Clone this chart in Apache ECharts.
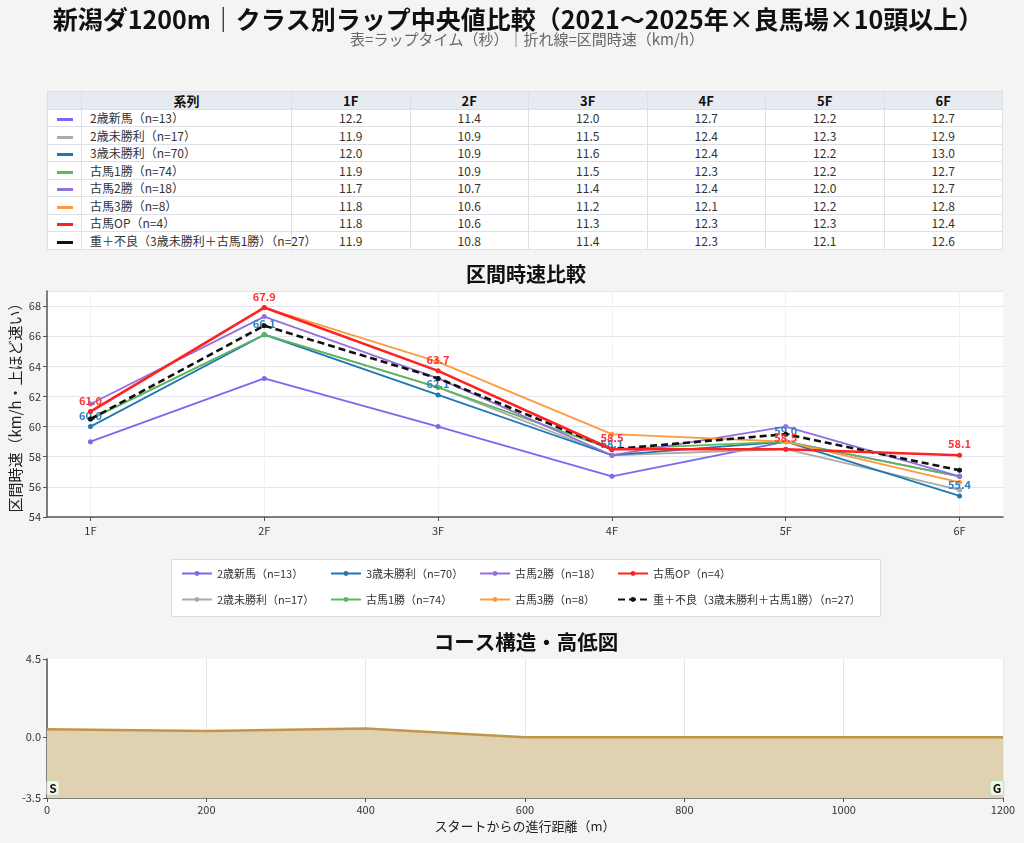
<!DOCTYPE html>
<html>
<head>
<meta charset="UTF-8">
<title>新潟ダ1200m クラス別ラップ中央値比較</title>
<script src="https://cdn.jsdelivr.net/npm/echarts@6/dist/echarts.min.js"></script>
<style>
  * {margin: 0; padding: 0;}
  body {background: #f4f4f4; font-family: "Noto Sans CJK JP", "Noto Sans", sans-serif;}
  #chart {position: absolute; left: 0; top: 0; width: 1024px; height: 843px;}
  #lapTable {position: absolute; left: 47px; top: 91px; width: 956px; border-collapse: collapse; table-layout: fixed;
    font-size: 12px; color: #333; background: #fff; z-index: 2;}
  #lapTable th, #lapTable td {border: 1px solid #dde0e6; height: 16.5px; line-height: 15px; padding: 0; text-align: center;}
  #lapTable th {background: #e6ebf2; font-weight: bold; font-size: 13px; color: #111;}
  #lapTable td.name {text-align: left; padding-left: 8px; white-space: nowrap;}
  .sw {display: inline-block; width: 16px; height: 3px; vertical-align: middle;}
</style>
</head>
<body>
<div id="chart"></div>
<table id="lapTable"></table>
<script type="text/javascript">
// 区間
var sections = ['1F', '2F', '3F', '4F', '5F', '6F'];

// 系列名・色
var seriesNames = ['2歳新馬（n=13）', '2歳未勝利（n=17）', '3歳未勝利（n=70）', '古馬1勝（n=74）',
                   '古馬2勝（n=18）', '古馬3勝（n=8）', '古馬OP（n=4）', '重＋不良（3歳未勝利＋古馬1勝）（n=27）'];
var seriesColors = ['#7b68ee', '#aaaaaa', '#1f77b4', '#5cb85c', '#9370db', '#ff9a3c', '#ff2222', '#111111'];

// ラップタイム（秒）
var lapShinba   = [12.2, 11.4, 12.0, 12.7, 12.2, 12.7];
var lapMisho2   = [11.9, 10.9, 11.5, 12.4, 12.3, 12.9];
var lapMisho3   = [12.0, 10.9, 11.6, 12.4, 12.2, 13.0];
var lapKoba1    = [11.9, 10.9, 11.5, 12.3, 12.2, 12.7];
var lapKoba2    = [11.7, 10.7, 11.4, 12.4, 12.0, 12.7];
var lapKoba3    = [11.8, 10.6, 11.2, 12.1, 12.2, 12.8];
var lapOP       = [11.8, 10.6, 11.3, 12.3, 12.3, 12.4];
var lapHeavy    = [11.9, 10.8, 11.4, 12.3, 12.1, 12.6];

// 区間時速（km/h）
var spdShinba   = [59.0, 63.2, 60.0, 56.7, 59.0, 56.7];
var spdMisho2   = [60.5, 66.1, 62.6, 58.1, 58.5, 55.8];
var spdMisho3   = [60.0, 66.1, 62.1, 58.1, 59.0, 55.4];
var spdKoba1    = [60.5, 66.1, 62.6, 58.5, 59.0, 56.7];
var spdKoba2    = [61.5, 67.3, 63.2, 58.1, 60.0, 56.7];
var spdKoba3    = [61.0, 67.9, 64.3, 59.5, 59.0, 56.3];
var spdOP       = [61.0, 67.9, 63.7, 58.5, 58.5, 58.1];
var spdHeavy    = [60.5, 66.7, 63.2, 58.5, 59.5, 57.1];

// 高低図
var courseDist   = [0, 200, 400, 600, 800, 1000, 1200];
var courseHeight = [0.45, 0.35, 0.5, 0.0, 0.0, 0.0, 0.0];
var heightTicks  = [-3.5, 0.0, 4.5];

var laps = [lapShinba, lapMisho2, lapMisho3, lapKoba1, lapKoba2, lapKoba3, lapOP, lapHeavy];
var speeds = [spdShinba, spdMisho2, spdMisho3, spdKoba1, spdKoba2, spdKoba3, spdOP, spdHeavy];

// 表
var html = '<colgroup><col style="width:34px"><col style="width:210px">';
for (var c = 0; c < sections.length; c++) html += '<col>';
html += '</colgroup><tr><th></th><th>系列</th>';
for (var c = 0; c < sections.length; c++) html += '<th>' + sections[c] + '</th>';
html += '</tr>';
for (var i = 0; i < seriesNames.length; i++) {
  html += '<tr><td><span class="sw" style="background:' + seriesColors[i] + '"></span></td><td class="name">' + seriesNames[i] + '</td>';
  for (var c = 0; c < sections.length; c++) html += '<td>' + laps[i][c].toFixed(1) + '</td>';
  html += '</tr>';
}
document.getElementById('lapTable').innerHTML = html;

var font = '"Noto Sans CJK JP", "Noto Sans", sans-serif';
var chart = echarts.init(document.getElementById('chart'), null, {renderer: 'canvas'});

var lineSeries = [];
for (var i = 0; i < seriesNames.length; i++) {
  var pts = [];
  for (var c = 0; c < sections.length; c++) pts.push([c, speeds[i][c]]);
  var isOP = (i === 6), isBlue = (i === 2), isHeavy = (i === 7);
  lineSeries.push({
    name: seriesNames[i],
    type: 'line',
    xAxisIndex: 0,
    yAxisIndex: 0,
    data: pts,
    symbol: 'circle',
    symbolSize: 5,
    color: seriesColors[i],
    lineStyle: {width: (isOP || isHeavy) ? 2.6 : 1.8, type: isHeavy ? [7, 4] : 'solid'},
    z: isOP ? 5 : (isHeavy ? 4 : 3),
    label: {
      show: isOP || isBlue,
      position: 'top',
      distance: 3,
      fontSize: 11,
      fontWeight: 'bold',
      fontFamily: font,
      color: isOP ? '#ff3333' : '#2a82c4',
      formatter: function (p) { return p.value[1].toFixed(1); }
    },
    emphasis: {disabled: true}
  });
}

var elevData = [];
for (var k = 0; k < courseDist.length; k++) elevData.push([courseDist[k], courseHeight[k]]);

var markBox = {
  fontSize: 12, fontWeight: 'bold', color: '#111', fontFamily: font,
  backgroundColor: '#eef6e8', borderColor: '#c5d9bc', borderWidth: 1, borderRadius: 2,
  padding: [1, 2]
};

lineSeries.push({
  name: 'elevation',
  type: 'line',
  xAxisIndex: 1,
  yAxisIndex: 1,
  data: elevData,
  symbol: 'none',
  color: '#c0964a',
  lineStyle: {width: 2.5, color: '#c0964a'},
  areaStyle: {color: '#e0d1b1', opacity: 1, origin: 'start'},
  markPoint: {
    symbolSize: 0,
    data: [
      {coord: [0, -3.5], label: Object.assign({show: true, formatter: 'S', offset: [6, -10]}, markBox)},
      {coord: [1200, -3.5], label: Object.assign({show: true, formatter: 'G', offset: [-6, -10]}, markBox)}
    ]
  },
  emphasis: {disabled: true}
});

function legendCol(left, names) {
  return {
    orient: 'vertical', left: left, top: 568, padding: 0, itemGap: 15, itemWidth: 30, itemHeight: 6,
    data: names, selectedMode: false,
    textStyle: {fontSize: 11, color: '#333', fontFamily: font}
  };
}

var option = {
  backgroundColor: '#f4f4f4',
  animation: false,
  textStyle: {fontFamily: font},
  title: [
    {text: '新潟ダ1200m｜クラス別ラップ中央値比較（2021～2025年×良馬場×10頭以上）', left: 513, textAlign: 'center', top: 2,
     textStyle: {fontSize: 25, fontWeight: 'bold', color: '#111', fontFamily: font}},
    {text: '表=ラップタイム（秒）｜折れ線=区間時速（km/h）', left: 522, textAlign: 'center', top: 27,
     textStyle: {fontSize: 15, fontWeight: 'normal', color: '#666', fontFamily: font}},
    {text: '区間時速比較', left: 521, textAlign: 'center', top: 259,
     textStyle: {fontSize: 20, fontWeight: 'bold', color: '#111', fontFamily: font}},
    {text: 'コース構造・高低図', left: 521, textAlign: 'center', top: 627,
     textStyle: {fontSize: 20.5, fontWeight: 'bold', color: '#111', fontFamily: font}}
  ],
  graphic: [
    {type: 'rect', left: 171, top: 559, shape: {width: 709, height: 57},
     style: {fill: '#ffffff', stroke: '#dddddd', lineWidth: 1}, z: -1}
  ],
  legend: [
    legendCol(181, [seriesNames[0], seriesNames[1]]),
    legendCol(330, [seriesNames[2], seriesNames[3]]),
    legendCol(479, [seriesNames[4], seriesNames[5]]),
    legendCol(617, [seriesNames[6], seriesNames[7]])
  ],
  grid: [
    {left: 47, right: 21, top: 291, bottom: 326, show: true, backgroundColor: '#ffffff', borderWidth: 0,
     containLabel: false, outerBoundsMode: 'none'},
    {left: 47, right: 21, top: 659, bottom: 45, show: true, backgroundColor: '#ffffff', borderWidth: 0,
     containLabel: false, outerBoundsMode: 'none'}
  ],
  xAxis: [
    {
      type: 'value', gridIndex: 0, min: -0.25, max: 5.25,
      axisLine: {onZero: false, lineStyle: {color: '#555', width: 1.5}},
      axisTick: {customValues: [0, 1, 2, 3, 4, 5], length: 4, lineStyle: {color: '#555'}},
      axisLabel: {customValues: [0, 1, 2, 3, 4, 5], color: '#333', fontSize: 11, margin: 8,
                  formatter: function (v) { return sections[Math.round(v)] || ''; }},
      splitLine: {show: true, lineStyle: {color: '#f0f0f5', width: 1}}
    },
    {
      type: 'value', gridIndex: 1, min: 0, max: 1200, interval: 200,
      name: 'スタートからの進行距離（m）', nameLocation: 'middle', nameGap: 22,
      nameTextStyle: {fontSize: 13, color: '#222', fontFamily: font},
      axisLine: {onZero: false, lineStyle: {color: '#555', width: 1.5}},
      axisTick: {length: 4, lineStyle: {color: '#555'}},
      axisLabel: {color: '#333', fontSize: 11, margin: 6, formatter: function (v) { return String(v); }},
      splitLine: {show: true, lineStyle: {color: '#e6e6e6', width: 1}}
    }
  ],
  yAxis: [
    {
      type: 'value', gridIndex: 0, min: 54, max: 69, interval: 2,
      name: '区間時速（km/h・上ほど速い）', nameLocation: 'middle', nameGap: 24, nameRotate: 90,
      nameMoveOverlap: false,
      nameTextStyle: {fontSize: 15, color: '#222', fontFamily: font},
      axisLine: {show: true, onZero: false, lineStyle: {color: '#555', width: 1.5}},
      axisTick: {show: true, length: 4, lineStyle: {color: '#555'}},
      axisLabel: {color: '#333', fontSize: 11, margin: 6, showMaxLabel: false},
      splitLine: {show: true, lineStyle: {color: '#e4e4ee', width: 1}}
    },
    {
      type: 'value', gridIndex: 1, min: -3.5, max: 4.5,
      axisLine: {show: true, onZero: false, lineStyle: {color: '#555', width: 1.5}},
      axisTick: {show: true, customValues: heightTicks, length: 4, lineStyle: {color: '#555'}},
      axisLabel: {customValues: heightTicks, color: '#333', fontSize: 11, margin: 6,
                  formatter: function (v) { return v.toFixed(1); }},
      splitLine: {show: false}
    }
  ],
  series: lineSeries
};

chart.setOption(option);
</script>
</body>
</html>
